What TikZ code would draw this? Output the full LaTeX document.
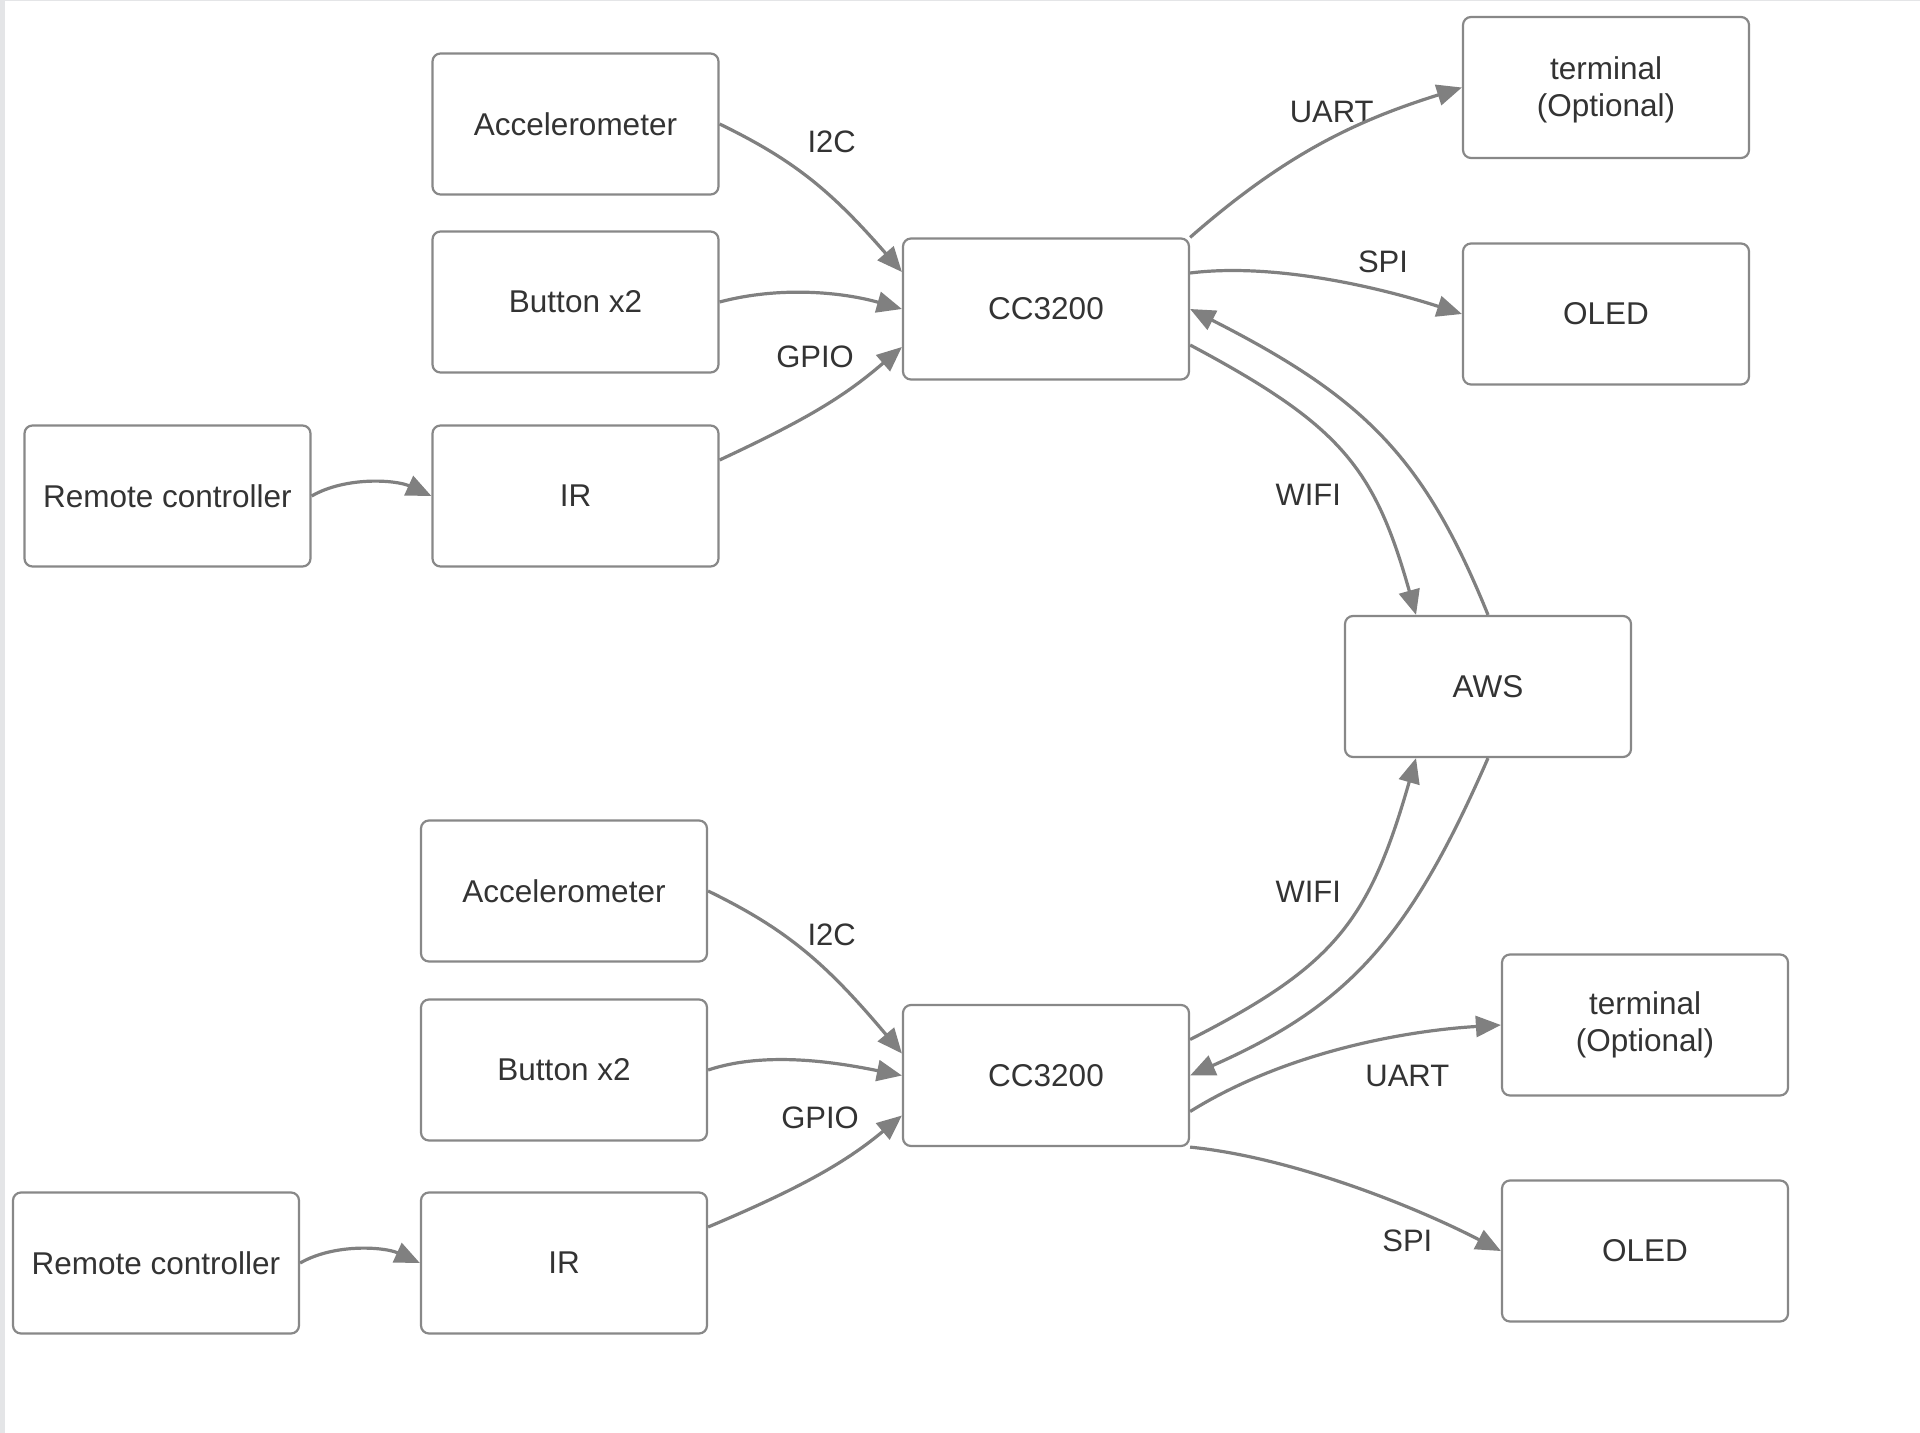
\documentclass[tikz,border=0pt]{standalone}
\usepackage{fontspec}
\setmainfont{Liberation Sans}
\usetikzlibrary{arrows.meta,calc}
\definecolor{lc}{HTML}{808080}
\definecolor{bc}{HTML}{888888}
\definecolor{tc}{HTML}{333333}
\definecolor{stripc}{HTML}{E4E5E7}
\begin{document}
\begin{tikzpicture}[x=0.5pt,y=-0.5pt,
  box/.style={draw=bc, line width=1.1pt, rounded corners=4pt, minimum width=143pt, minimum height=70.5pt, inner sep=0pt, align=center, text=tc, font=\fontsize{15.75}{18.5}\selectfont},
  lbl/.style={text=tc, inner sep=0pt, font=\fontsize{15.5}{18}\selectfont},
  conn/.style={draw=lc, line width=1.6pt, -{Triangle[length=12.5pt,width=10.5pt]}}]
\fill[white] (0,0) rectangle (1920,1433);
\fill[stripc] (0,0) rectangle (5,1433);
\fill[stripc] (0,0) rectangle (1920,1.5);
\useasboundingbox (0,0) rectangle (1920,1433);

% top group
\node[box] (acc1) at (575.5,124) {Accelerometer};
\node[box] (btn1) at (575.5,302) {Button x2};
\node[box] (ir1) at (575.5,496) {IR};
\node[box] (rc1) at (167.5,496) {Remote controller};
\node[box] (cc1) at (1046,309) {CC3200};
\node[box, text depth=0.6pt] (term1) at (1606,87.5) {terminal\\(Optional)};
\node[box] (oled1) at (1606,314) {OLED};
\node[box] (aws) at (1488,686.5) {AWS};
% bottom group
\node[box] (acc2) at (564,891) {Accelerometer};
\node[box] (btn2) at (564,1070) {Button x2};
\node[box] (ir2) at (564,1263) {IR};
\node[box] (rc2) at (156,1263) {Remote controller};
\node[box] (cc2) at (1046,1075.5) {CC3200};
\node[box] (term2) at (1645,1025) {terminal\\(Optional)};
\node[box] (oled2) at (1645,1251) {OLED};

% labels
\node[lbl] (l1) at (831.7,142.3) {I2C};
\node[lbl] (l2) at (815,356.7) {GPIO};
\node[lbl] (l3) at (1331.7,111.7) {UART};
\node[lbl] (l4) at (1383,261.7) {SPI};
\node[lbl] (l5) at (1308.3,495) {WIFI};
\node[lbl] (l6) at (1308.3,891.7) {WIFI};
\node[lbl] (l7) at (1407.3,1076) {UART};
\node[lbl] (l8) at (1407.3,1240.7) {SPI};
\node[lbl] (l9) at (831.7,935) {I2C};
\node[lbl] (l10) at (820,1118.3) {GPIO};

% top connectors
\draw[conn] (acc1.east) .. controls +(74,36) and +(-71.5,-82) .. ($(cc1.west)+(0,-37)$);
\draw[conn] (btn1.east) .. controls +(60,-16) and +(-60,-17) .. (cc1.west);
\draw[conn] ($(ir1.east)+(0,-36)$) .. controls +(89,-41.5) and +(-57,49) .. ($(cc1.west)+(0,38)$);
\draw[conn] (rc1.east) .. controls +(35,-20) and +(-35,-16) .. (ir1.west);
\draw[conn] (cc1.north east) .. controls +(98,-86) and +(-102,32) .. (term1.west);
\draw[conn] ($(cc1.east)+(0,-36)$) .. controls +(80,-10) and +(-90,-29) .. (oled1.west);
\draw[conn] ($(cc1.east)+(0,36)$) .. controls +(150,80) and +(-41.6,-148) .. ($(aws.north)+(-72,0)$);
\draw[conn] (aws.north) .. controls +(-64,-158) and +(174,88.5) .. (cc1.east);

% bottom connectors
\draw[conn] ($(cc2.east)+(0,-36)$) .. controls +(144,-73.5) and +(-47,164) .. ($(aws.south)+(-72,0)$);
\draw[conn] (aws.south) .. controls +(-79,181) and +(158,-70) .. (cc2.east);
\draw[conn] ($(cc2.east)+(0,36)$) .. controls +(93,-58) and +(-100,6) .. (term2.west);
\draw[conn] (cc2.south east) .. controls +(100,10) and +(-89,-46) .. (oled2.west);
\draw[conn] (acc2.east) .. controls +(78,38) and +(-76.5,-91) .. ($(cc2.west)+(0,-22)$);
\draw[conn] (btn2.east) .. controls +(60,-20) and +(-60,-12) .. (cc2.west);
\draw[conn] ($(ir2.east)+(0,-36)$) .. controls +(90,-38) and +(-57.5,48) .. ($(cc2.west)+(0,40)$);
\draw[conn] (rc2.east) .. controls +(35,-20) and +(-35,-16) .. (ir2.west);
\end{tikzpicture}
\end{document}
